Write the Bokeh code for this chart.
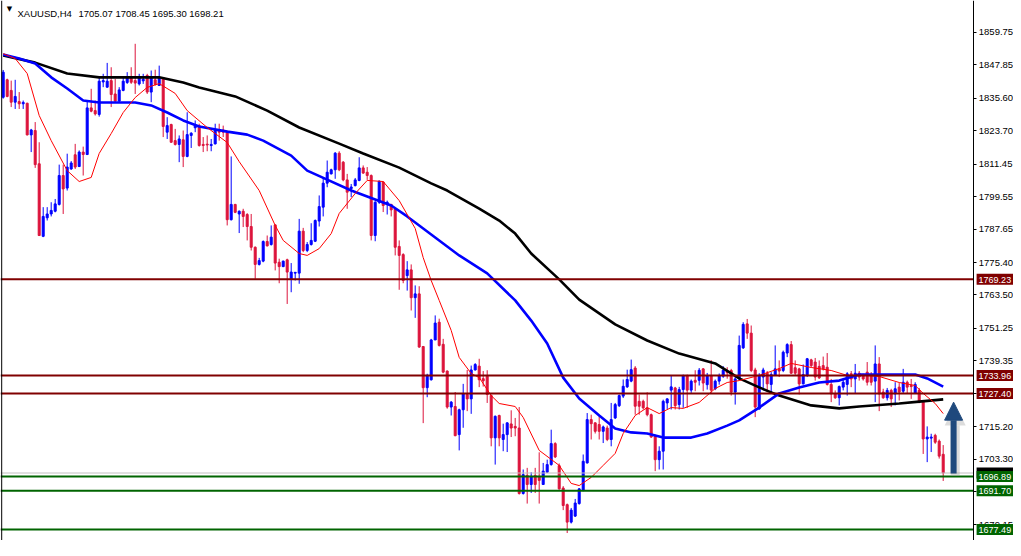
from bokeh.plotting import figure
from bokeh.models import Range1d, Span, Label, FixedTicker, NumeralTickFormatter, Arrow, NormalHead, ColumnDataSource, LinearAxis
from bokeh.embed import file_html
from bokeh.resources import INLINE

# ---------------- data ----------------
symbol = "XAUUSD,H4"
last_bar_text = "1705.07 1708.45 1695.30 1698.21"

opens = [1836.0, 1842.4, 1838.5, 1834.2, 1834.4, 1833.6, 1833.8, 1822.2, 1823.8, 1811.6,
         1785.0, 1791.8, 1793.2, 1794.2, 1796.7, 1807.3, 1802.7, 1809.7, 1814.9, 1810.6,
         1815.9, 1815.0, 1832.1, 1831.1, 1829.7, 1841.6, 1839.7, 1842.1, 1837.2, 1834.6,
         1838.5, 1841.4, 1843.6, 1842.1, 1840.9, 1842.0, 1844.0, 1837.9, 1842.4, 1840.3,
         1843.1, 1823.2, 1826.0, 1820.1, 1818.7, 1820.4, 1814.3, 1822.0, 1824.8, 1825.6,
         1818.7, 1818.8, 1818.3, 1818.9, 1824.0, 1824.0, 1823.2, 1791.1, 1796.7, 1793.2,
         1794.2, 1793.0, 1788.6, 1781.0, 1774.7, 1775.9, 1783.1, 1782.0, 1789.2, 1775.5,
         1773.9, 1776.4, 1769.4, 1771.5, 1771.5, 1786.9, 1779.8, 1782.0, 1783.2, 1790.6,
         1795.7, 1804.5, 1807.9, 1809.4, 1815.5, 1812.2, 1805.7, 1802.5, 1803.6, 1805.5,
         1810.1, 1808.5, 1807.3, 1785.3, 1797.5, 1804.9, 1796.9, 1796.7, 1795.1, 1781.3,
         1778.3, 1770.6, 1772.7, 1762.5, 1763.9, 1744.6, 1729.5, 1732.4, 1747.0, 1753.5,
         1745.4, 1735.6, 1722.4, 1722.6, 1712.3, 1721.4, 1727.0, 1725.4, 1736.0, 1737.4,
         1732.8, 1733.7, 1726.6, 1711.1, 1719.3, 1710.5, 1712.3, 1716.2, 1715.3, 1714.7,
         1690.7, 1697.3, 1694.0, 1697.3, 1697.0, 1694.0, 1698.5, 1701.3, 1709.0, 1700.9,
         1692.7, 1686.6, 1680.2, 1682.4, 1687.0, 1691.9, 1701.9, 1717.8, 1716.6, 1716.0,
         1713.5, 1714.7, 1710.5, 1718.4, 1722.9, 1726.4, 1729.8, 1731.9, 1736.7, 1724.5,
         1724.5, 1722.1, 1719.6, 1711.7, 1703.1, 1706.2, 1723.9, 1728.6, 1729.4, 1723.3,
         1728.8, 1733.9, 1728.6, 1732.2, 1732.2, 1736.4, 1730.6, 1733.9, 1729.1, 1731.9,
         1733.7, 1735.6, 1735.8, 1727.9, 1732.7, 1744.1, 1752.9, 1749.5, 1736.0, 1721.7,
         1733.4, 1734.8, 1730.7, 1734.0, 1736.4, 1735.8, 1742.2, 1745.3, 1736.8, 1736.4,
         1730.9, 1734.0, 1739.7, 1738.9, 1737.3, 1737.6, 1737.0, 1730.7, 1727.2, 1725.8,
         1729.7, 1730.7, 1734.6, 1732.7, 1734.8, 1734.0, 1735.2, 1734.3, 1731.9, 1738.2,
         1727.9, 1725.8, 1728.5, 1727.2, 1729.7, 1728.2, 1731.5, 1730.3, 1727.5, 1728.5,
         1724.5, 1710.7, 1711.0, 1712.0, 1709.9, 1705.07]

highs = [1846.0, 1842.8, 1842.1, 1842.4, 1837.9, 1834.8, 1834.0, 1824.4, 1826.9, 1819.5,
         1795.7, 1795.7, 1797.5, 1798.7, 1811.3, 1811.3, 1815.3, 1812.6, 1818.9, 1816.5,
         1817.9, 1834.8, 1839.1, 1834.8, 1843.4, 1844.6, 1848.6, 1847.0, 1842.7, 1839.7,
         1843.1, 1845.2, 1847.0, 1855.6, 1844.6, 1844.6, 1844.6, 1845.8, 1846.1, 1847.6,
         1843.4, 1828.7, 1826.3, 1824.4, 1822.0, 1823.8, 1830.5, 1823.2, 1827.5, 1826.3,
         1821.4, 1822.0, 1820.7, 1826.3, 1826.3, 1825.6, 1823.8, 1814.3, 1796.9, 1794.5,
         1795.1, 1793.5, 1793.2, 1781.3, 1777.1, 1783.5, 1785.3, 1789.0, 1789.4, 1776.8,
         1776.1, 1776.8, 1775.2, 1771.9, 1791.4, 1788.1, 1782.9, 1789.8, 1791.2, 1800.0,
         1806.7, 1812.8, 1809.8, 1815.9, 1816.2, 1812.6, 1807.9, 1804.2, 1806.4, 1814.0,
         1811.0, 1810.4, 1807.7, 1797.9, 1805.5, 1805.2, 1798.1, 1796.9, 1795.3, 1783.5,
         1778.8, 1775.9, 1774.7, 1767.0, 1766.7, 1744.8, 1734.6, 1747.4, 1756.0, 1754.8,
         1747.4, 1735.8, 1724.6, 1727.9, 1721.8, 1730.9, 1736.0, 1737.6, 1738.5, 1740.1,
         1735.6, 1735.9, 1727.0, 1719.3, 1719.6, 1716.3, 1716.8, 1721.2, 1718.4, 1722.4,
         1699.5, 1700.1, 1698.5, 1700.1, 1705.8, 1701.9, 1703.1, 1714.1, 1709.5, 1701.7,
         1693.4, 1687.0, 1685.4, 1688.7, 1692.7, 1705.0, 1720.2, 1719.6, 1716.8, 1719.0,
         1715.6, 1715.6, 1723.9, 1723.9, 1727.0, 1732.5, 1736.1, 1739.8, 1737.4, 1727.0,
         1725.1, 1727.8, 1720.0, 1712.3, 1708.0, 1725.1, 1725.6, 1733.9, 1729.8, 1729.8,
         1734.3, 1734.3, 1732.5, 1735.9, 1736.7, 1736.7, 1734.9, 1739.6, 1732.5, 1734.7,
         1737.4, 1737.0, 1736.4, 1733.4, 1748.6, 1753.5, 1754.7, 1752.3, 1736.8, 1734.8,
         1736.8, 1735.6, 1735.2, 1745.0, 1739.5, 1743.1, 1745.8, 1746.6, 1739.5, 1736.8,
         1738.0, 1740.4, 1740.1, 1740.4, 1739.5, 1740.9, 1742.2, 1732.7, 1728.5, 1730.3,
         1732.7, 1735.2, 1735.6, 1738.2, 1735.6, 1734.6, 1738.9, 1735.2, 1745.0, 1740.7,
         1729.1, 1729.4, 1729.1, 1731.5, 1731.2, 1736.4, 1732.1, 1732.7, 1731.5, 1729.4,
         1725.0, 1715.3, 1712.6, 1712.6, 1710.5, 1708.45]

lows = [1835.5, 1836.0, 1832.4, 1831.7, 1831.7, 1831.7, 1822.0, 1815.9, 1810.1, 1785.1,
        1784.7, 1790.8, 1792.3, 1793.8, 1796.3, 1793.2, 1801.8, 1809.4, 1809.7, 1810.4,
        1807.3, 1814.8, 1830.5, 1829.3, 1828.9, 1839.7, 1839.5, 1832.4, 1834.2, 1834.2,
        1838.2, 1840.9, 1840.9, 1837.2, 1840.3, 1840.9, 1837.2, 1834.2, 1840.3, 1840.3,
        1821.4, 1820.7, 1819.3, 1818.3, 1812.2, 1810.4, 1814.0, 1817.4, 1823.2, 1817.9,
        1815.9, 1816.2, 1816.2, 1818.7, 1820.1, 1821.4, 1789.0, 1790.8, 1793.5, 1786.2,
        1788.4, 1783.5, 1779.8, 1769.4, 1774.3, 1775.5, 1781.3, 1781.6, 1772.5, 1767.8,
        1773.7, 1760.2, 1764.5, 1768.8, 1767.6, 1779.2, 1779.2, 1781.6, 1782.9, 1788.6,
        1792.3, 1803.0, 1807.7, 1806.1, 1808.9, 1805.2, 1795.1, 1799.4, 1803.3, 1805.2,
        1807.9, 1805.7, 1783.5, 1783.2, 1796.9, 1793.9, 1793.0, 1792.3, 1778.0, 1765.4,
        1767.8, 1765.1, 1757.8, 1755.1, 1744.1, 1716.5, 1726.0, 1732.1, 1747.0, 1744.6,
        1734.8, 1721.8, 1719.3, 1711.7, 1706.5, 1714.8, 1720.9, 1719.9, 1735.8, 1729.7,
        1729.9, 1723.9, 1708.0, 1701.3, 1708.0, 1706.2, 1705.9, 1711.4, 1711.7, 1690.3,
        1690.3, 1687.0, 1690.9, 1690.9, 1687.0, 1694.0, 1698.3, 1700.9, 1703.7, 1692.1,
        1684.6, 1676.2, 1679.7, 1682.1, 1686.6, 1691.5, 1701.7, 1710.5, 1712.7, 1710.5,
        1709.2, 1709.9, 1708.0, 1718.0, 1722.4, 1725.7, 1729.4, 1731.5, 1719.6, 1719.6,
        1721.5, 1719.0, 1711.1, 1698.9, 1699.5, 1699.5, 1721.7, 1721.5, 1721.5, 1721.5,
        1722.1, 1722.1, 1727.6, 1728.2, 1730.3, 1728.2, 1728.8, 1727.6, 1728.6, 1730.6,
        1733.1, 1732.8, 1726.6, 1723.3, 1732.4, 1743.7, 1747.4, 1735.2, 1718.7, 1721.4,
        1728.5, 1727.9, 1727.2, 1734.0, 1733.4, 1735.2, 1740.7, 1734.6, 1734.0, 1727.0,
        1730.7, 1733.4, 1737.0, 1732.1, 1732.7, 1735.8, 1730.3, 1724.2, 1725.4, 1723.0,
        1728.5, 1726.6, 1729.7, 1727.2, 1732.1, 1732.1, 1730.3, 1730.3, 1724.2, 1720.9,
        1725.4, 1724.8, 1722.4, 1723.0, 1724.8, 1727.5, 1727.5, 1725.4, 1727.2, 1723.8,
        1705.2, 1702.2, 1705.9, 1708.9, 1703.5, 1695.30]

closes = [1845.2, 1836.3, 1834.2, 1836.3, 1833.6, 1834.1, 1822.2, 1824.0, 1811.3, 1785.3,
          1792.3, 1793.2, 1794.5, 1796.9, 1807.3, 1802.4, 1810.4, 1811.9, 1810.4, 1815.9,
          1815.0, 1832.1, 1830.9, 1829.9, 1841.9, 1842.1, 1841.9, 1837.0, 1834.6, 1838.7,
          1841.9, 1843.6, 1841.5, 1841.2, 1843.6, 1842.6, 1837.9, 1843.6, 1840.7, 1843.1,
          1825.3, 1825.6, 1819.5, 1818.7, 1820.7, 1814.3, 1822.3, 1822.8, 1825.6, 1818.3,
          1818.3, 1818.5, 1818.7, 1824.0, 1823.2, 1823.2, 1791.1, 1796.7, 1793.8, 1794.2,
          1792.3, 1788.6, 1781.0, 1774.7, 1776.1, 1783.1, 1781.5, 1784.7, 1775.2, 1773.9,
          1775.9, 1771.9, 1771.9, 1771.8, 1786.9, 1779.8, 1782.0, 1783.5, 1790.8, 1795.9,
          1804.5, 1808.5, 1809.4, 1815.5, 1809.4, 1805.7, 1801.2, 1803.1, 1805.7, 1810.1,
          1808.2, 1807.3, 1785.3, 1797.5, 1805.2, 1796.3, 1797.5, 1794.7, 1781.0, 1778.0,
          1768.8, 1772.7, 1762.5, 1763.9, 1744.4, 1729.5, 1734.0, 1747.0, 1753.2, 1745.0,
          1735.2, 1722.4, 1724.2, 1711.9, 1721.4, 1727.2, 1725.4, 1736.0, 1738.0, 1732.4,
          1732.0, 1727.0, 1711.1, 1719.0, 1711.1, 1712.3, 1716.6, 1714.7, 1714.7, 1690.7,
          1697.6, 1694.0, 1697.0, 1694.0, 1695.5, 1698.9, 1701.3, 1709.0, 1704.1, 1692.4,
          1686.3, 1680.2, 1684.6, 1687.2, 1692.4, 1702.5, 1717.8, 1716.3, 1713.5, 1713.5,
          1715.1, 1710.5, 1717.8, 1723.3, 1726.6, 1730.0, 1732.5, 1736.1, 1722.7, 1722.7,
          1722.1, 1719.6, 1711.4, 1703.1, 1706.2, 1724.5, 1725.4, 1729.8, 1722.9, 1728.8,
          1733.9, 1728.6, 1731.9, 1731.5, 1735.9, 1731.2, 1733.9, 1728.6, 1731.9, 1733.9,
          1735.9, 1735.0, 1727.9, 1732.7, 1745.0, 1752.7, 1749.5, 1735.8, 1722.4, 1734.0,
          1736.0, 1730.9, 1734.3, 1736.4, 1735.6, 1742.5, 1745.3, 1734.8, 1734.8, 1730.9,
          1734.3, 1740.1, 1737.6, 1733.4, 1733.1, 1736.4, 1730.7, 1727.2, 1725.8, 1729.9,
          1731.5, 1734.6, 1732.7, 1734.8, 1733.4, 1732.7, 1731.5, 1731.5, 1738.2, 1727.2,
          1725.8, 1728.5, 1725.4, 1729.1, 1727.9, 1731.5, 1729.7, 1729.9, 1730.7, 1724.2,
          1710.7, 1711.4, 1711.4, 1709.5, 1704.4, 1698.21]

# moving averages, read at sample bars (bar index, price)
ma_fast_idx = [0, 3, 6, 9, 12, 16, 19, 22, 24, 27, 30, 33, 36, 39, 43, 46, 51, 56, 59, 64,
               68, 70, 74, 76, 79, 82, 84, 88, 91, 95, 99, 103, 105, 107, 109, 112, 114, 117,
               119, 122, 124, 128, 130, 134, 139, 142, 144, 147, 150, 153, 155, 158, 161,
               164, 167, 170, 174, 178, 181, 184, 189, 194, 197, 202, 207, 211, 216, 219,
               224, 228, 230, 233, 235]
ma_fast_val = [1852.0, 1850.2, 1844.7, 1829.3, 1820.1, 1809.1, 1805.1, 1806.6, 1815.4, 1822.7,
               1830.4, 1835.9, 1839.6, 1841.0, 1837.4, 1831.1, 1824.9, 1819.4, 1812.4, 1801.8,
               1789.0, 1783.5, 1778.7, 1778.0, 1780.5, 1786.0, 1793.4, 1800.7, 1805.5, 1805.1,
               1798.1, 1787.9, 1777.2, 1768.8, 1761.5, 1750.5, 1740.6, 1734.7, 1733.2, 1726.6,
               1723.7, 1722.6, 1718.6, 1706.5, 1701.0, 1694.4, 1693.6, 1696.6, 1701.0, 1705.4,
               1712.7, 1719.3, 1722.2, 1720.0, 1722.2, 1721.9, 1724.1, 1729.2, 1731.4, 1732.1,
               1734.0, 1736.5, 1738.4, 1736.9, 1735.8, 1734.0, 1734.0, 1733.6, 1731.4, 1730.3,
               1727.4, 1723.7, 1720.0]

ma_mid_idx = [0, 4, 8, 12, 16, 20, 24, 33, 37, 41, 45, 49, 56, 61, 65, 72, 76, 81, 87, 93,
              97, 101, 105, 109, 114, 121, 128, 132, 136, 140, 144, 149, 153, 157, 161, 165,
              172, 176, 181, 184, 189, 194, 199, 204, 209, 214, 219, 228, 231, 235]
ma_mid_val = [1851.7, 1850.2, 1848.4, 1843.3, 1839.2, 1834.8, 1834.1, 1834.1, 1833.0, 1830.4,
              1827.5, 1825.3, 1823.4, 1822.3, 1820.1, 1814.6, 1809.1, 1805.8, 1801.8, 1798.5,
              1796.3, 1792.3, 1787.9, 1783.5, 1778.0, 1771.4, 1761.5, 1754.1, 1745.7, 1733.2,
              1725.5, 1719.3, 1714.5, 1713.1, 1712.7, 1711.2, 1711.2, 1712.7, 1715.6, 1717.5,
              1722.2, 1727.4, 1729.6, 1731.4, 1732.1, 1734.3, 1734.3, 1734.3, 1732.9, 1729.9]

ma_slow_idx = [0, 8, 16, 24, 33, 39, 45, 49, 58, 66, 74, 84, 90, 99, 107, 111, 119, 124,
               128, 132, 139, 144, 153, 161, 169, 178, 184, 189, 194, 202, 209, 214, 224,
               229, 235]
ma_slow_val = [1851.3, 1848.7, 1844.7, 1843.3, 1843.3, 1843.3, 1841.4, 1839.6, 1836.3, 1831.1,
               1824.9, 1819.0, 1815.4, 1810.2, 1804.4, 1801.8, 1795.2, 1790.8, 1786.0, 1778.7,
               1769.2, 1761.8, 1752.7, 1746.8, 1742.0, 1738.4, 1732.9, 1729.6, 1726.6, 1723.0,
               1721.9, 1722.6, 1723.7, 1724.4, 1725.2]

resistance_levels = [1769.23, 1733.96, 1727.40]
support_levels = [1696.89, 1691.70, 1677.49]
bid_price = 1698.21

price_ticks = [1859.75, 1847.85, 1835.60, 1823.70, 1811.45, 1799.55, 1787.65, 1775.40,
               1763.50, 1751.25, 1739.35, 1727.45, 1715.20, 1703.30, 1691.25, 1679.15]

arrow_bar = 237.6
arrow_from = 1698.0
arrow_to = 1724.2

# ---------------- layout / styling ----------------
BULL = "#0000FF"
BEAR = "#DC143C"
MAROON = "#800000"
GREEN = "#006400"
FONT = "Liberation Sans"
SCALE_FONT_SIZE = "9.5px"
TAG_FONT_SIZE = "9px"

x_lo, x_hi = -0.675, 252.575      # frame spans the whole window width (price scale drawn inside)
y_lo, y_hi = 1673.46, 1871.48
axis_x = 242.65                   # bar position of the price-scale line
tag_x = 243.35                    # bar position where the price tags start

n = len(closes)
idx = list(range(n))
colors = [BULL if c >= o else BEAR for o, c in zip(opens, closes)]
src = ColumnDataSource(dict(
    x=idx, o=opens, h=highs, l=lows, c=closes,
    top=[max(o, c) for o, c in zip(opens, closes)],
    bot=[min(o, c) for o, c in zip(opens, closes)],
    color=colors,
))

p = figure(width=1013, height=540, output_backend="svg", toolbar_location=None,
           x_range=Range1d(x_lo, x_hi), y_range=Range1d(y_lo, y_hi),
           x_axis_location=None, y_axis_location=None,
           min_border_left=0, min_border_top=0, min_border_bottom=0, min_border_right=0)
p.grid.visible = False
p.outline_line_color = None
p.background_fill_color = "white"
p.border_fill_color = "white"

# price scale (right side, drawn at the chart's right edge)
ax = LinearAxis(fixed_location=axis_x)
ax.ticker = FixedTicker(ticks=price_ticks, minor_ticks=[])
ax.formatter = NumeralTickFormatter(format="0.00")
ax.major_label_text_font = FONT
ax.major_label_text_font_size = SCALE_FONT_SIZE
ax.major_label_text_color = "black"
ax.major_tick_in = 0
ax.major_tick_out = 3
ax.minor_tick_in = 0
ax.minor_tick_out = 0
ax.major_label_standoff = 2
ax.axis_line_color = "black"
ax.axis_line_width = 1
ax.major_tick_line_color = "black"
p.add_layout(ax, "right")

# candles
p.segment(x0="x", y0="l", x1="x", y1="h", color="color", line_width=1, source=src)
p.vbar(x="x", width=0.5, top="top", bottom="bot", fill_color="color",
       line_color="color", line_width=1, source=src)

# moving averages
p.line(ma_slow_idx, ma_slow_val, line_color="black", line_width=2.6)
p.line(ma_mid_idx, ma_mid_val, line_color="#0000FF", line_width=2.6)
p.line(ma_fast_idx, ma_fast_val, line_color="#FF0000", line_width=1)

# left border of the chart window
p.add_layout(Span(location=x_lo + 0.3, dimension="height", line_color="black", line_width=1))

# bid line and horizontal levels (end at the price scale)
p.segment(x0=[x_lo], x1=[axis_x], y0=[bid_price], y1=[bid_price], line_color="#C0C0C0", line_width=1)
p.segment(x0=[x_lo] * len(resistance_levels), x1=[axis_x] * len(resistance_levels),
          y0=resistance_levels, y1=resistance_levels, line_color=MAROON, line_width=2)
p.segment(x0=[x_lo] * len(support_levels), x1=[axis_x] * len(support_levels),
          y0=support_levels, y1=support_levels, line_color=GREEN, line_width=2)

# price tags on the scale
def tag(level, bg, fg="white"):
    p.add_layout(Label(x=tag_x, y=level, text=f"{level:.2f}", text_color=fg,
                       text_font=FONT, text_font_size=TAG_FONT_SIZE, text_baseline="middle",
                       text_align="left", background_fill_color=bg,
                       padding=dict(left=2, right=2, top=3, bottom=2)))

tag(bid_price, "black")
for lv in resistance_levels:
    tag(lv, MAROON)
for lv in support_levels:
    tag(lv, GREEN)

# arrow (with soft shadow)
ARROW = "#1F497D"
p.add_layout(Arrow(x_start=arrow_bar + 0.4, y_start=arrow_from - 0.9, x_end=arrow_bar + 0.4,
                   y_end=arrow_to - 0.9, line_color="#9A9A9A", line_alpha=0.35, line_width=9,
                   end=NormalHead(size=21, fill_color="#9A9A9A", fill_alpha=0.35, line_color=None)))
p.add_layout(Arrow(x_start=arrow_bar, y_start=arrow_from, x_end=arrow_bar, y_end=arrow_to,
                   line_color=ARROW, line_width=6,
                   end=NormalHead(size=18, fill_color=ARROW, line_color=ARROW, line_width=1)))

# header text
p.add_layout(Label(x=1.575, y=1868.2, text="▼", text_font="DejaVu Sans", text_font_size="7px",
                   text_baseline="middle", text_align="center", text_color="black"))
p.add_layout(Label(x=3.575, y=1866.7, text=symbol, text_font=FONT, text_font_size="9.5px",
                   text_baseline="alphabetic", text_color="black"))
p.add_layout(Label(x=18.8, y=1866.7, text=last_bar_text, text_font=FONT,
                   text_font_size="9.5px", text_baseline="alphabetic", text_color="black"))

open("out.html", "w").write(file_html(p, INLINE))
